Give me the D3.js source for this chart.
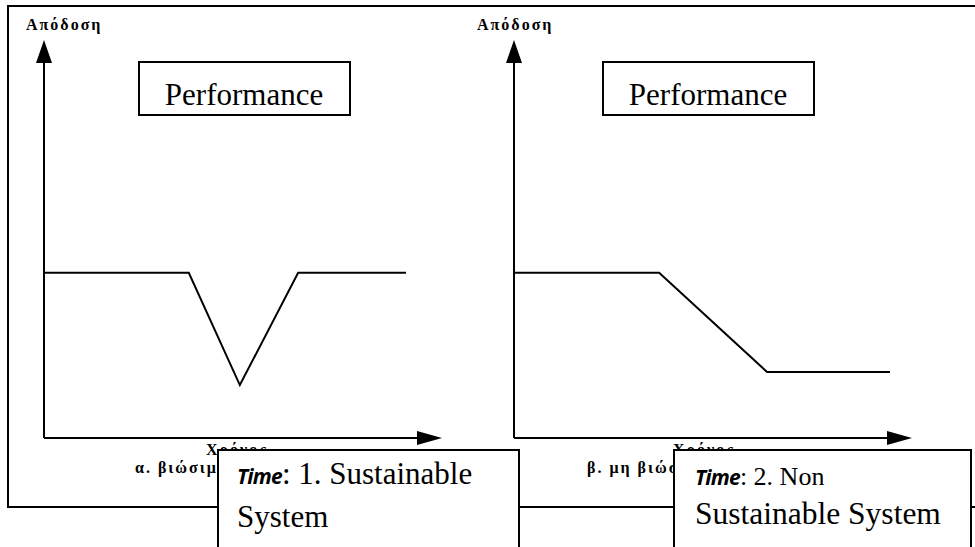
<!DOCTYPE html>
<html>
<head>
<meta charset="utf-8">
<script src="https://cdn.jsdelivr.net/npm/d3@7"></script>
<style>
  body { margin: 0; background: #fff; }
  svg { display: block; }
</style>
</head>
<body>
<div class="chart"></div>
<script>
// data (time 0..10, performance 0..10)
const time1 = [0, 4.0, 5.41, 7.02, 10];
const perf1 = [4.15, 4.15, 1.33, 4.15, 4.15];
const time2 = [0, 3.86, 6.73, 10];
const perf2 = [4.15, 4.15, 1.66, 1.66];

const yLabel = 'Απόδοση';
const xLabel = 'Χρόνος';
const panelTitles = ['α. βιώσιμο σύστημα', 'β. μη βιώσιμο σύστημα'];
const boxTitle = 'Performance';

const outerWidth = 975;
const outerHeight = 547;

const svg = d3.select('.chart')
  .append('svg')
    .attr('width', outerWidth)
    .attr('height', outerHeight);

// outer frame
svg.append('rect')
  .attr('x', 8).attr('y', 6)
  .attr('width', 990).attr('height', 501)
  .attr('fill', 'none')
  .attr('stroke', '#000')
  .attr('stroke-width', 2);

const y = d3.scaleLinear().domain([0, 10]).range([438, 40]);

const panels = [
  { left: 44, right: 406, axisEnd: 442, label: 26, box: 139, time: time1, perf: perf1, title: panelTitles[0], xLab: 206, titleX: 135 },
  { left: 514, right: 890, axisEnd: 912, label: 477, box: 603, time: time2, perf: perf2, title: panelTitles[1], xLab: 673, titleX: 587 }
];

const serif = '"Liberation Serif", "Times New Roman", serif';

panels.forEach(p => {
  const x = d3.scaleLinear().domain([0, 10]).range([p.left, p.right]);
  const g = svg.append('g');

  // y axis with arrow
  g.append('line')
    .attr('x1', p.left).attr('x2', p.left)
    .attr('y1', y(0)).attr('y2', y(10) + 10)
    .attr('stroke', '#000').attr('stroke-width', 2);
  g.append('path')
    .attr('d', `M${p.left},${y(10)} L${p.left - 8},${y(10) + 23} L${p.left + 8},${y(10) + 23} Z`)
    .attr('fill', '#000');

  // x axis with arrow
  g.append('line')
    .attr('x1', p.left).attr('x2', p.axisEnd - 10)
    .attr('y1', y(0)).attr('y2', y(0))
    .attr('stroke', '#000').attr('stroke-width', 2);
  g.append('path')
    .attr('d', `M${p.axisEnd},${y(0)} L${p.axisEnd - 25},${y(0) - 7} L${p.axisEnd - 25},${y(0) + 7} Z`)
    .attr('fill', '#000');

  // performance curve
  const line = d3.line()
    .x((d, i) => x(p.time[i]))
    .y(d => y(d));
  g.append('path')
    .datum(p.perf)
    .attr('d', line)
    .attr('fill', 'none')
    .attr('stroke', '#000')
    .attr('stroke-width', 2)
    .attr('stroke-linejoin', 'miter');

  // axis labels
  const greek = sel => sel
    .attr('font-family', serif)
    .attr('font-weight', 'bold')
    .attr('font-size', 16)
    .attr('letter-spacing', 2);

  g.append('text')
    .attr('x', p.label).attr('y', 30)
    .call(greek)
    .text(yLabel);

  g.append('text')
    .attr('x', p.xLab).attr('y', 455)
    .call(greek)
    .text(xLabel);

  g.append('text')
    .attr('x', p.titleX).attr('y', 473)
    .call(greek)
    .text(p.title);

  // Performance box
  g.append('rect')
    .attr('x', p.box).attr('y', 62)
    .attr('width', 211).attr('height', 53)
    .attr('fill', '#fff')
    .attr('stroke', '#000').attr('stroke-width', 2);
  g.append('text')
    .attr('x', p.box + 105).attr('y', 105)
    .attr('text-anchor', 'middle')
    .attr('font-family', serif)
    .attr('font-size', 31)
    .text(boxTitle);
});

// "Time" caption boxes (they sit on top of the time labels, as in the picture)
const sans = '"Open Sans", "Liberation Sans", sans-serif';

const cap1 = svg.append('g');
cap1.append('rect')
  .attr('x', 218).attr('y', 450)
  .attr('width', 301).attr('height', 120)
  .attr('fill', '#fff')
  .attr('stroke', '#000').attr('stroke-width', 2);
const t1 = cap1.append('text').attr('x', 237).attr('y', 484).attr('font-family', serif).attr('font-size', 31);
t1.append('tspan').attr('font-family', sans).attr('font-weight', 'bold').attr('font-style', 'italic').attr('font-size', 21).attr('letter-spacing', -0.8).text('Time');
t1.append('tspan').text(': 1. Sustainable');
cap1.append('text').attr('x', 237).attr('y', 527)
  .attr('font-family', serif).attr('font-size', 31)
  .text('System');

const cap2 = svg.append('g');
cap2.append('rect')
  .attr('x', 674).attr('y', 450)
  .attr('width', 297).attr('height', 120)
  .attr('fill', '#fff')
  .attr('stroke', '#000').attr('stroke-width', 2);
const t2 = cap2.append('text').attr('x', 695).attr('y', 485).attr('font-family', serif).attr('font-size', 26);
t2.append('tspan').attr('font-family', sans).attr('font-weight', 'bold').attr('font-style', 'italic').attr('font-size', 21).attr('letter-spacing', -0.8).text('Time');
t2.append('tspan').text(': 2. Non');
cap2.append('text').attr('x', 695).attr('y', 524)
  .attr('font-family', serif).attr('font-size', 31.5)
  .text('Sustainable System');
</script>
</body>
</html>
